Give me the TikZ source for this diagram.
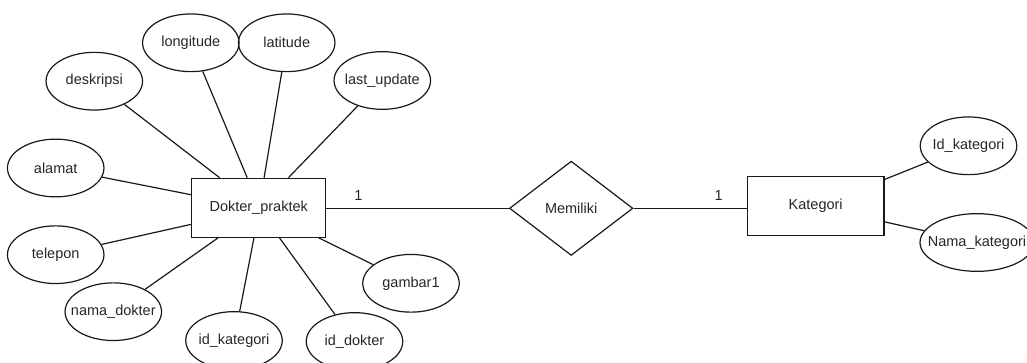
\documentclass[tikz,border=0pt]{standalone}
\usepackage{fontspec}
\setmainfont{Liberation Sans}
\usetikzlibrary{shapes.geometric,calc}

\tikzset{
  er/.style={draw=black!90, line width=1.2pt, inner sep=0pt, text=black!85,
    font=\fontsize{14.5}{17}\selectfont},
  entity/.style={er, rectangle, minimum height=59pt},
  attr/.style={er, ellipse, minimum width=96.5pt, minimum height=57.7pt},
  relation/.style={er, diamond, minimum width=123.4pt, minimum height=94.3pt},
  link/.style={draw=black!90, line width=1.2pt},
  card/.style={font=\fontsize{14.5}{17}\selectfont, text=black!85, inner sep=0pt}
}
\newcommand{\lbl}[1]{\makebox[0pt]{#1}}

\begin{document}
\begin{tikzpicture}[x=1pt, y=-1pt]
  \useasboundingbox (0,0) rectangle (1027,363);
  \clip (0,0) rectangle (1027,363);

  % entities and relationship
  \node[entity, minimum width=134pt] (dp) at (258.7,207.8) {\lbl{Dokter\_praktek}};
  \node[relation] (mem) at (571.2,208.3) {\lbl{Memiliki}};
  \node[entity, minimum width=136.4pt] (kat) at (815.7,206.2) {\lbl{Kategori}};

  % attributes of Dokter_praktek
  \node[attr] (lon)   at (190.8,42.8)  {\lbl{longitude}};
  \node[attr] (lat)   at (286.7,42.8)  {\lbl{latitude}};
  \node[attr] (desk)  at (94.3,81.2)   {\lbl{deskripsi}};
  \node[attr] (last)  at (382.3,80.5)  {\lbl{last\_update}};
  \node[attr] (alm)   at (55.7,168)    {\lbl{alamat}};
  \node[attr] (telp)  at (55.7,254.7)  {\lbl{telepon}};
  \node[attr] (nama)  at (113.3,311.7) {\lbl{nama\_dokter}};
  \node[attr] (idk)   at (234,340.5)   {\lbl{id\_kategori}};
  \node[attr] (idd)   at (354.5,341.5) {\lbl{id\_dokter}};
  \node[attr] (gbr)   at (411,283.3)   {\lbl{gambar1}};

  % attributes of Kategori
  \node[attr] (kid)   at (968.5,145.8) {\lbl{Id\_kategori}};
  \node[attr, minimum width=114pt] (knm) at (977,242.5) {\lbl{Nama\_kategori}};

  % attachment points on the entity borders
  \coordinate (t1) at ($(dp.north west)!0.211!(dp.north east)$);
  \coordinate (t2) at ($(dp.north west)!0.415!(dp.north east)$);
  \coordinate (t3) at ($(dp.north west)!0.54!(dp.north east)$);
  \coordinate (t4) at ($(dp.north west)!0.72!(dp.north east)$);
  \coordinate (b1) at ($(dp.south west)!0.199!(dp.south east)$);
  \coordinate (b2) at ($(dp.south west)!0.465!(dp.south east)$);
  \coordinate (b3) at ($(dp.south west)!0.654!(dp.south east)$);
  \coordinate (b4) at ($(dp.south west)!0.945!(dp.south east)$);
  \coordinate (l1) at ($(dp.north west)!0.283!(dp.south west)$);
  \coordinate (l2) at ($(dp.north west)!0.775!(dp.south west)$);
  \coordinate (r1) at ($(kat.north east)!0.056!(kat.south east)$);
  \coordinate (r2) at ($(kat.north east)!0.76!(kat.south east)$);

  % attribute links
  \draw[link] (desk) -- (t1);
  \draw[link] (lon) -- (t2);
  \draw[link] (lat) -- (t3);
  \draw[link] (last) -- (t4);
  \draw[link] (alm) -- (l1);
  \draw[link] (telp) -- (l2);
  \draw[link] (nama) -- (b1);
  \draw[link] (idk) -- (b2);
  \draw[link] (idd) -- (b3);
  \draw[link] (gbr) -- (b4);
  \draw[link] (kid) -- (r1);
  \draw[link] (knm) -- (r2);

  % relationship links with cardinalities
  \draw[link] (dp.east |- mem.west) -- (mem.west);
  \draw[link] (mem.east) -- (mem.east -| kat.west);
  \node[card] (c1) at (358.3,195.7) {1};
  \node[card] (c2) at (718.6,195.7) {1};
\end{tikzpicture}
\end{document}
